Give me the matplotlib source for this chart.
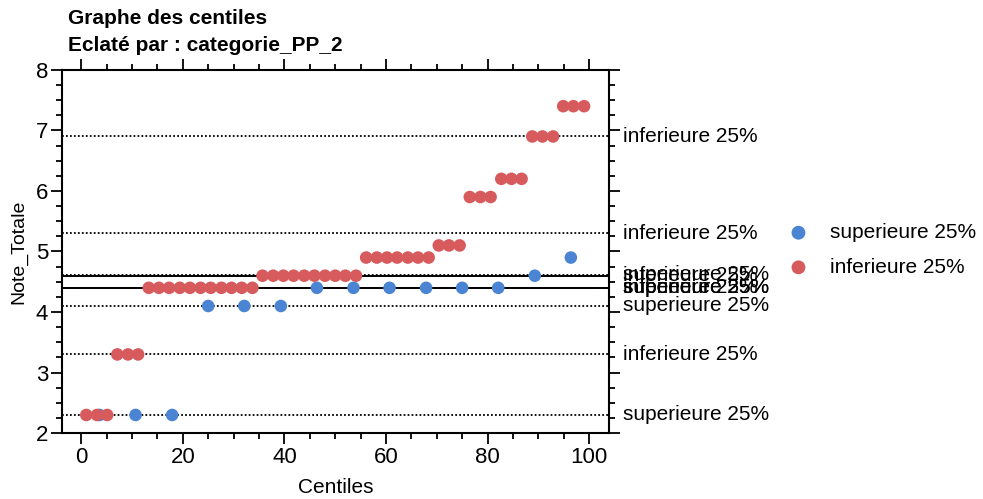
import matplotlib.pyplot as plt
import matplotlib.transforms as mtransforms
from matplotlib.ticker import MultipleLocator

plt.rcParams['font.family'] = ['Liberation Sans', 'DejaVu Sans']

# points du groupe "superieure 25%"
sup_centiles = [3.6, 10.7, 17.9, 25.0, 32.1, 39.3, 46.4, 53.6, 60.7, 67.9, 75.0, 82.1, 89.3, 96.4]
sup_notes = [2.3, 2.3, 2.3, 4.1, 4.1, 4.1, 4.4, 4.4, 4.4, 4.4, 4.4, 4.4, 4.6, 4.9]

# points du groupe "inferieure 25%"
inf_centiles = [1.0, 3.1, 5.1, 7.1, 9.2, 11.2, 13.3, 15.3, 17.3, 19.4, 21.4, 23.5, 25.5,
                27.6, 29.6, 31.6, 33.7, 35.7, 37.8, 39.8, 41.8, 43.9, 45.9, 48.0, 50.0,
                52.0, 54.1, 56.1, 58.2, 60.2, 62.2, 64.3, 66.3, 68.4, 70.4, 72.4, 74.5,
                76.5, 78.6, 80.6, 82.7, 84.7, 86.7, 88.8, 90.8, 92.9, 94.9, 96.9, 99.0]
inf_notes = [2.3, 2.3, 2.3, 3.3, 3.3, 3.3,
             4.4, 4.4, 4.4, 4.4, 4.4, 4.4, 4.4, 4.4, 4.4, 4.4, 4.4,
             4.6, 4.6, 4.6, 4.6, 4.6, 4.6, 4.6, 4.6, 4.6, 4.6,
             4.9, 4.9, 4.9, 4.9, 4.9, 4.9, 4.9,
             5.1, 5.1, 5.1, 5.9, 5.9, 5.9, 6.2, 6.2, 6.2, 6.9, 6.9, 6.9, 7.4, 7.4, 7.4]

# lignes de reference (centiles de chaque groupe)
ref_valeurs = [6.9, 5.3, 4.6, 4.4, 3.3, 4.62, 4.4, 4.4, 4.1, 2.3]
ref_groupes = ['inferieure 25%'] * 5 + ['superieure 25%'] * 5
ref_types = ['centile', 'centile', 'mediane', 'centile', 'centile',
             'centile', 'mediane', 'centile', 'centile', 'centile']

bleu = '#4a84d2'
rouge = '#d75a5c'

fig = plt.figure(figsize=(9.83, 4.99), dpi=100)
ax = fig.add_axes([0.063, 0.132, 0.557, 0.728])

trans = mtransforms.blended_transform_factory(ax.transAxes, ax.transData)
for val, lab, typ in zip(ref_valeurs, ref_groupes, ref_types):
    if typ == 'mediane':
        ax.axhline(val, color='black', lw=1.4, ls='-', zorder=1)
    else:
        ax.axhline(val, color='black', lw=1.3, ls=(0, (1, 1.2)), zorder=1)
    ax.text(1.024, val, lab, transform=trans, va='center', ha='left', fontsize=15)

ax.scatter(sup_centiles, sup_notes, s=82, color=bleu, edgecolors='none', zorder=3,
           label='superieure 25%')
ax.scatter(inf_centiles, inf_notes, s=82, color=rouge, edgecolors='none', zorder=4,
           label='inferieure 25%')

ax.set_xlim(-3.8, 104)
ax.set_ylim(2, 8)
ax.xaxis.set_major_locator(MultipleLocator(20))
ax.xaxis.set_minor_locator(MultipleLocator(5))
ax.yaxis.set_major_locator(MultipleLocator(1))
ax.yaxis.set_minor_locator(MultipleLocator(0.25))
ax.tick_params(which='both', direction='out', top=True, right=True,
               labeltop=False, labelright=False, width=1.3, labelsize=16, pad=2)
ax.tick_params(which='major', length=8)
ax.tick_params(which='minor', length=4.5)
for sp in ax.spines.values():
    sp.set_linewidth(1.5)

ax.set_xlabel('Centiles', fontsize=15, labelpad=7)
ax.set_ylabel('Note_Totale', fontsize=14, labelpad=6)

fig.text(0.069, 0.962, 'Graphe des centiles', fontsize=15, fontweight='bold', va='center')
fig.text(0.069, 0.909, 'Eclaté par : categorie_PP_2', fontsize=15, fontweight='bold', va='center')

fig.legend(loc='center left', bbox_to_anchor=(0.772, 0.499), frameon=False, fontsize=15,
           handletextpad=0.5, labelspacing=0.75, markerscale=1.1, scatterpoints=1)

fig.savefig('out.png', dpi=100)
